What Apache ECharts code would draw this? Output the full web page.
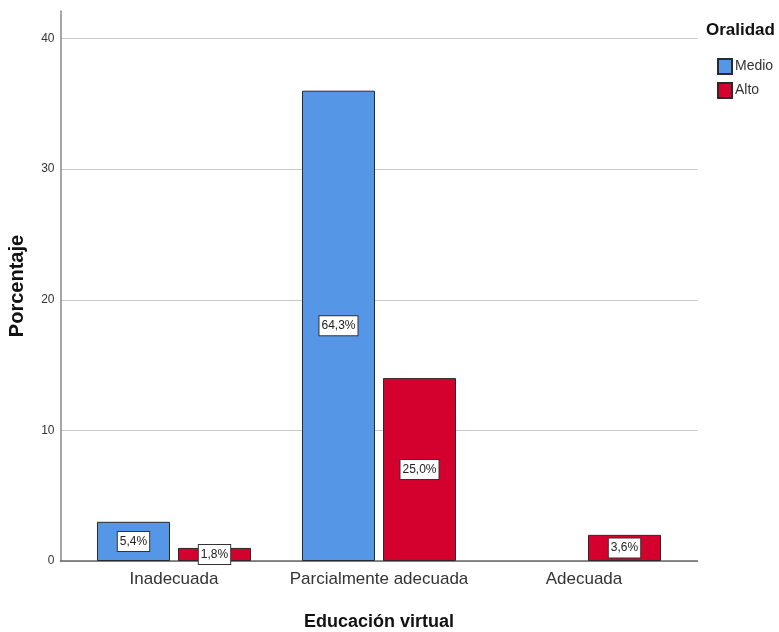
<!DOCTYPE html>
<html><head><meta charset="utf-8">
<script src="https://cdn.jsdelivr.net/npm/echarts@6/dist/echarts.min.js"></script>
<style>html,body{margin:0;padding:0;background:#fff}#c{width:779px;height:632px}</style>
</head><body><div id="c"></div>
<script>
const categories = ['Inadecuada', 'Parcialmente adecuada', 'Adecuada'];
const seriesNames = ['Medio', 'Alto'];
const medioValues = [3, 36, null];
const altoValues = [1, 14, 2];
const medioLabels = ['5,4%', '64,3%', ''];
const altoLabels = ['1,8%', '25,0%', '3,6%'];
const yTicks = [0, 10, 20, 30, 40];

const font = '"Liberation Sans", Arial, sans-serif';
const chart = echarts.init(document.getElementById('c'));
const labelStyle = (arr) => ({
  show: true, position: 'inside',
  formatter: p => arr[p.dataIndex],
  fontFamily: font, fontSize: 12, color: '#222',
  backgroundColor: '#fff', borderColor: '#333', borderWidth: 1, padding: [4, 2, 3, 2]
});
const Y0 = 561, Y40 = 38.5, YTOP = 11;
chart.setOption({
  animation: false,
  textStyle: { fontFamily: font },
  grid: [
    { left: 60.5, right: 81.5, top: YTOP, bottom: 632 - Y0, outerBoundsMode: 'none', containLabel: false },
    { left: 71.5, right: 92.5, top: YTOP, bottom: 632 - Y0, outerBoundsMode: 'none', containLabel: false },
    { left: 60.5, right: 81.5, top: Y40, bottom: 632 - Y0, outerBoundsMode: 'none', containLabel: false }
  ],
  xAxis: [
    { gridIndex: 0, type: 'category', data: [''], axisLine: { lineStyle: { color: '#666', width: 1.5 } },
      axisTick: { show: false }, axisLabel: { show: false },
      name: 'Educación virtual', nameLocation: 'middle', nameGap: 52,
      nameTextStyle: { fontFamily: font, fontSize: 18, fontWeight: 'bold', color: '#111' } },
    { gridIndex: 1, type: 'category', data: categories, axisLine: { show: false }, axisTick: { show: false },
      axisLabel: { interval: 0, hideOverlap: false, fontFamily: font, fontSize: 17, color: '#333', margin: 10 } },
    { gridIndex: 2, type: 'category', data: [''], show: false }
  ],
  yAxis: [
    { gridIndex: 0, type: 'value', min: 0, max: 42.1,
      axisLine: { show: true, lineStyle: { color: '#888', width: 1.5 } }, axisTick: { show: false },
      axisLabel: { show: false }, splitLine: { show: false },
      name: 'Porcentaje', nameLocation: 'middle', nameGap: 33,
      nameTextStyle: { fontFamily: font, fontSize: 20, fontWeight: 'bold', color: '#111' } },
    { gridIndex: 1, type: 'value', min: 0, max: 42.1, show: false },
    { gridIndex: 2, type: 'value', min: 0, max: 40, interval: 10,
      axisLine: { show: false }, axisTick: { show: false },
      axisLabel: { fontFamily: font, fontSize: 12, color: '#333', margin: 6,
        formatter: v => yTicks.includes(v) ? String(v) : '' },
      splitLine: { lineStyle: { color: '#c8c8c8', width: 1.2 } } }
  ],
  legend: {
    orient: 'vertical', left: 712, top: 53, itemWidth: 14, itemHeight: 15, itemGap: 7,
    icon: 'rect', data: seriesNames,
    textStyle: { fontFamily: font, fontSize: 14, color: '#333', padding: [0, 0, 0, -2] }
  },
  graphic: [
    { type: 'text', left: 706, top: 22, style: { text: 'Oralidad', font: 'bold 17px ' + font, fill: '#111' } }
  ],
  series: [
    { name: seriesNames[0], type: 'bar', xAxisIndex: 1, yAxisIndex: 1, data: medioValues,
      barWidth: 73, barGap: '11%',
      itemStyle: { color: '#5596e6', borderColor: '#2a2a2a', borderWidth: 1 },
      label: labelStyle(medioLabels) },
    { name: seriesNames[1], type: 'bar', xAxisIndex: 1, yAxisIndex: 1, data: altoValues,
      barWidth: 73, barGap: '11%',
      itemStyle: { color: '#d4002e', borderColor: '#2a2a2a', borderWidth: 1 },
      label: labelStyle(altoLabels) }
  ]
});
</script></body></html>
